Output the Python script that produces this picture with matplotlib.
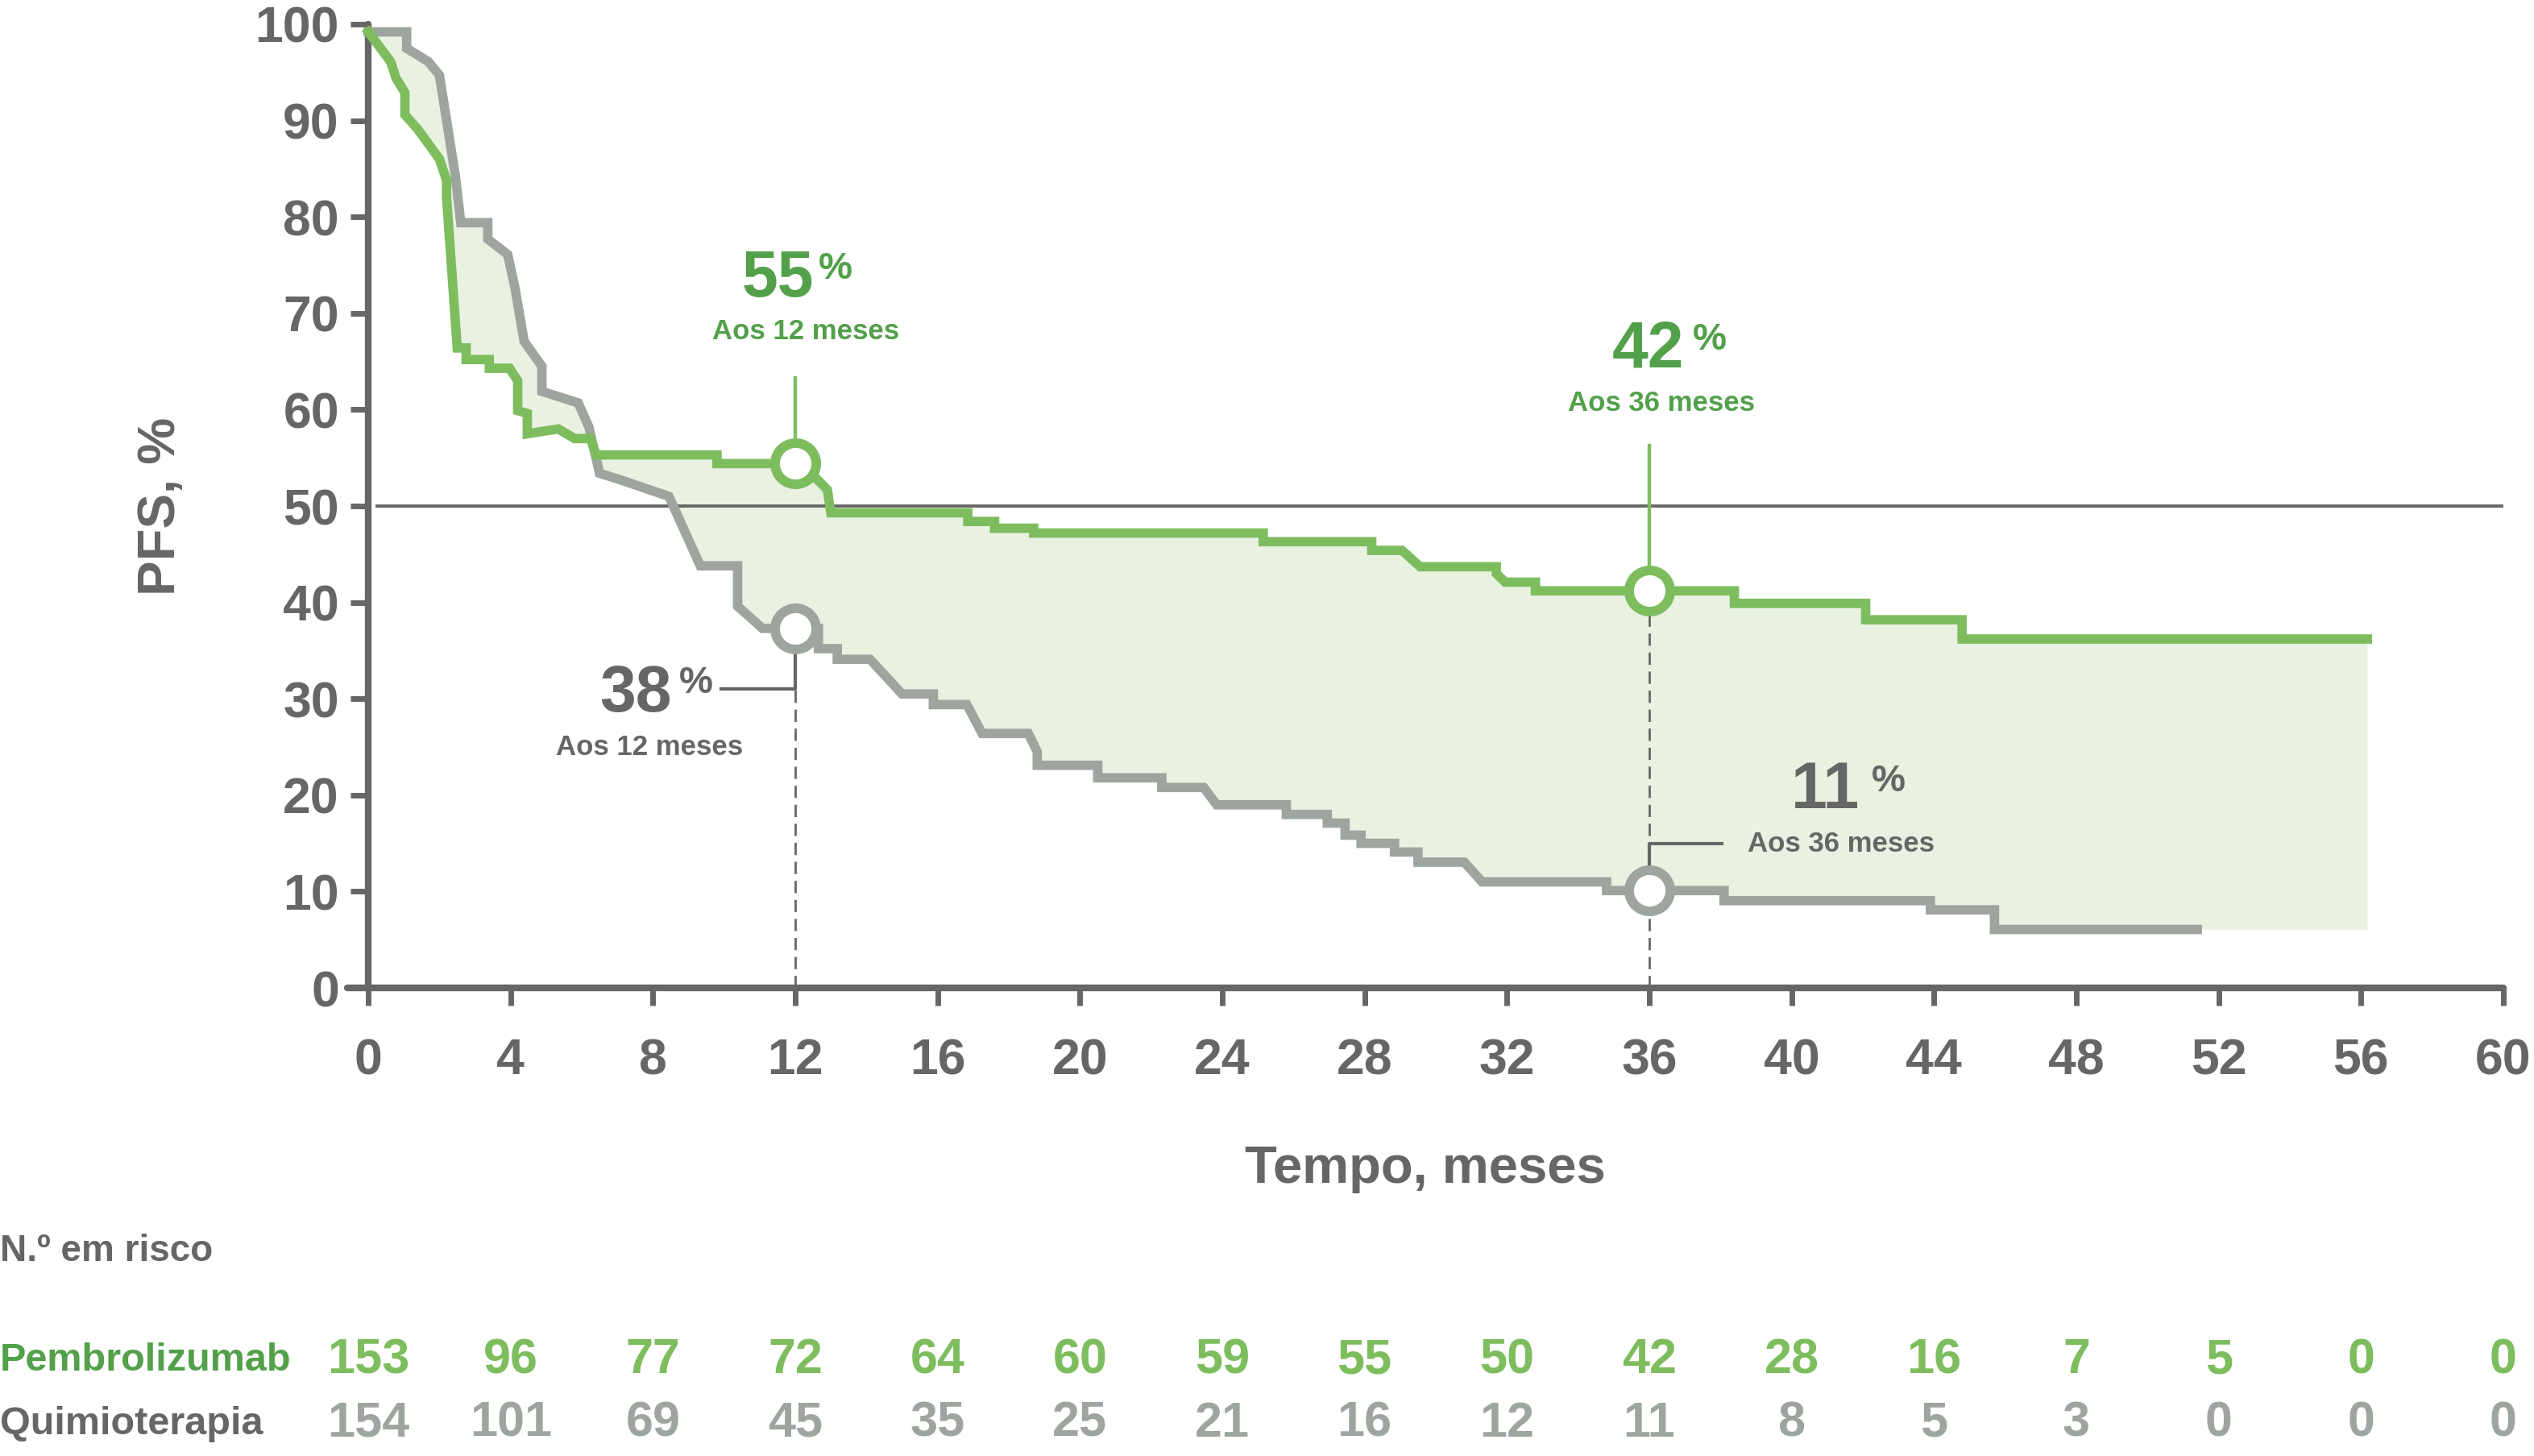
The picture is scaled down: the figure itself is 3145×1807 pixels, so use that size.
import matplotlib.pyplot as plt
import numpy as np
from matplotlib.transforms import blended_transform_factory

plt.rcParams['font.family'] = ['Liberation Sans', 'DejaVu Sans']
plt.rcParams['font.weight'] = 'bold'

# %% data
pembro_t = [0, 0.63, 0.78, 1.03, 1.03, 1.39, 2.0, 2.2, 2.2, 2.5, 2.75, 2.75, 3.4, 3.4,
            3.97, 4.2, 4.2, 4.47, 4.47, 5.34, 5.8, 6.25, 6.4, 9.8, 9.8, 12.0, 12.58,
            12.9, 13.0, 16.85, 16.85, 17.6, 17.6, 18.7, 18.7, 25.15, 25.15, 28.2,
            28.2, 29.05, 29.56, 31.7, 31.7, 31.95, 32.8, 32.8, 38.39, 38.39, 42.08,
            42.08, 44.79, 44.79, 56.18]
pembro_s = [99.2, 96.1, 94.4, 92.9, 90.6, 89.1, 86.0, 83.8, 82.1, 66.4, 66.4, 65.2, 65.2,
            64.3, 64.3, 63.0, 59.9, 59.6, 57.5, 58.0, 57.0, 57.0, 55.3, 55.3, 54.4, 54.4,
            52.9, 51.7, 49.3, 49.3, 48.4, 48.4, 47.7, 47.7, 47.2, 47.2, 46.3, 46.3, 45.4,
            45.4, 43.7, 43.7, 43.0, 42.1, 42.1, 41.2, 41.2, 39.9, 39.9, 38.2, 38.2, 36.2,
            36.2]

quimio_t = [0, 1.08, 1.08, 1.69, 2.0, 2.45, 2.6, 3.36, 3.36, 3.92, 4.13, 4.38, 4.88, 4.88,
            5.9, 6.2, 6.5, 7.1, 8.45, 9.33, 10.38, 10.38, 11.08, 12.65, 12.65, 13.18,
            13.18, 14.1, 15.0, 15.88, 15.88, 16.82, 17.25, 18.55, 18.8, 18.8, 20.5, 20.5,
            22.3, 22.3, 23.48, 23.84, 25.8, 25.8, 26.95, 26.95, 27.45, 27.45, 27.9, 27.9,
            28.84, 28.84, 29.5, 29.5, 30.8, 31.3, 34.8, 34.8, 38.1, 38.1, 43.9, 43.9,
            45.7, 45.7, 51.4]
quimio_s = [99.2, 99.2, 97.5, 96.1, 94.7, 84.2, 79.4, 79.4, 77.7, 76.1, 72.5, 67.1, 64.5,
            61.9, 60.7, 58.2, 53.4, 52.7, 51.0, 43.8, 43.8, 39.6, 37.3, 37.3, 35.2, 35.2,
            34.1, 34.1, 30.5, 30.5, 29.4, 29.4, 26.4, 26.4, 24.5, 23.1, 23.1, 21.8, 21.8,
            20.8, 20.8, 19.0, 19.0, 18.0, 18.0, 17.1, 17.1, 15.85, 15.85, 15.0, 15.0, 14.1,
            14.1, 13.05, 13.05, 11.0, 11.0, 10.1, 10.1, 9.05, 9.05, 8.1, 8.1, 6.06, 6.06]

landmarks = [12, 36]
pembro_pct = ['55', '42']
quimio_pct = ['38', '11']
landmark_text = ['Aos 12 meses', 'Aos 36 meses']

xticks = list(range(0, 61, 4))
yticks = list(range(0, 101, 10))
risk_pembro = [153, 96, 77, 72, 64, 60, 59, 55, 50, 42, 28, 16, 7, 5, 0, 0]
risk_quimio = [154, 101, 69, 45, 35, 25, 21, 16, 12, 11, 8, 5, 3, 0, 0, 0]

GREEN = '#7dbd5e'
DKGREEN = '#52a04a'
GREY = '#9ea59e'
DKGREY = '#666666'
FILL = '#e9f1e1'

# %% figure
fig = plt.figure(figsize=(15.725, 9.035), dpi=200)
ax = fig.add_axes([0.1369, 0.3215, 0.851, 0.6619])
ax.set_xlim(-0.6, 60)
ax.set_ylim(0, 100)

# shaded band between the two curves
fx = pembro_t + [pembro_t[-1]] + quimio_t[::-1]
fy = pembro_s + [quimio_s[-1]] + quimio_s[::-1]
ax.fill(fx, fy, color=FILL, lw=0, zorder=1)

ax.plot([0.2, 60], [50, 50], color=DKGREY, lw=1.4, zorder=2, solid_capstyle='butt')

ax.plot(quimio_t, quimio_s, color=GREY, lw=4.2, zorder=3, solid_joinstyle='miter')
ax.plot(pembro_t, pembro_s, color=GREEN, lw=4.2, zorder=3, solid_joinstyle='miter')

# landmark markers
pm = [np.interp(t, pembro_t, pembro_s) for t in landmarks]
qm = [np.interp(t, quimio_t, quimio_s) for t in landmarks]

# dashed drop lines
ax.plot([12, 12], [0, qm[0]], color=DKGREY, lw=1.0, dashes=(5.5, 3), zorder=2)
ax.plot([36, 36], [0, pm[1]], color=DKGREY, lw=1.0, dashes=(5.5, 3), zorder=2)

# green leader lines up to the labels
ax.plot([12, 12], [pm[0], 63.3], color=GREEN, lw=1.6, zorder=3.5)
ax.plot([36, 36], [pm[1], 56.3], color=GREEN, lw=1.6, zorder=3.5)
# grey elbow leaders
ax.plot([9.92, 12, 12], [31.0, 31.0, qm[0]], color=DKGREY, lw=1.5, zorder=3.5)
ax.plot([38.03, 36, 36], [15.0, 15.0, qm[1]], color=DKGREY, lw=1.5, zorder=3.5)

ax.plot(landmarks, pm, 'o', ms=18.4, mfc='white', mec=GREEN, mew=4.3, zorder=5)
ax.plot(landmarks, qm, 'o', ms=18.4, mfc='white', mec=GREY, mew=4.3, zorder=5)

# annotation texts
big = dict(fontsize=29, fontweight='bold', va='baseline')
sup = dict(fontsize=17, fontweight='bold', va='baseline', ha='left')
sub = dict(fontsize=12.5, fontweight='bold', va='baseline', ha='center')

ax.text(11.5, 71.7, pembro_pct[0], ha='center', color=DKGREEN, **big)
ax.text(12.66, 73.55, '%', color=DKGREEN, **sup)
ax.text(12.29, 67.3, landmark_text[0], color=DKGREEN, **sub)

ax.text(35.96, 64.4, pembro_pct[1], ha='center', color=DKGREEN, **big)
ax.text(37.22, 66.2, '%', color=DKGREEN, **sup)
ax.text(36.35, 59.9, landmark_text[1], color=DKGREEN, **sub)

ax.text(7.52, 28.7, quimio_pct[0], ha='center', color=DKGREY, **big)
ax.text(8.74, 30.6, '%', color=DKGREY, **sup)
ax.text(7.9, 24.2, landmark_text[0], color=DKGREY, **sub)

ax.text(40.95, 18.66, quimio_pct[1], ha='center', color=DKGREY, **big)
ax.text(42.25, 20.4, '%', color=DKGREY, **sup)
ax.text(41.38, 14.17, landmark_text[1], color=DKGREY, **sub)

# axes styling
for s in ['top', 'right']:
    ax.spines[s].set_visible(False)
ax.spines['left'].set_position(('data', 0))
for s in ['left', 'bottom']:
    ax.spines[s].set_color(DKGREY)
    ax.spines[s].set_linewidth(3)
    ax.spines[s].set_capstyle('round')
ax.set_xticks(xticks)
ax.set_yticks(yticks)
ax.tick_params(axis='both', colors=DKGREY, width=2.5, length=8, labelsize=22.5)
ax.tick_params(axis='x', pad=14)
ax.tick_params(axis='y', pad=5)
for lab in ax.get_xticklabels() + ax.get_yticklabels():
    lab.set_fontweight('bold')

ax.set_xlabel('Tempo, meses', fontsize=23.5, fontweight='bold', color=DKGREY, labelpad=27)
ax.set_ylabel('PFS, %', fontsize=23.5, fontweight='bold', color=DKGREY, labelpad=31)

# number at risk table
tr = blended_transform_factory(ax.transData, fig.transFigure)
fig.text(0.0, 0.1339, 'N.º em risco', fontsize=16.5, fontweight='bold', color=DKGREY,
         va='baseline', ha='left')
fig.text(0.0, 0.0585, 'Pembrolizumab', fontsize=17.5, fontweight='bold', color=DKGREEN,
         va='baseline', ha='left')
fig.text(0.0, 0.0150, 'Quimioterapia', fontsize=17.5, fontweight='bold', color=DKGREY,
         va='baseline', ha='left')
for t, p, q in zip(xticks, risk_pembro, risk_quimio):
    ax.text(t, 0.0570, str(p), transform=tr, ha='center', va='baseline', fontsize=22,
            fontweight='bold', color=GREEN, clip_on=False)
    ax.text(t, 0.0133, str(q), transform=tr, ha='center', va='baseline', fontsize=22,
            fontweight='bold', color=GREY, clip_on=False)

fig.savefig('out.png', dpi=200)
